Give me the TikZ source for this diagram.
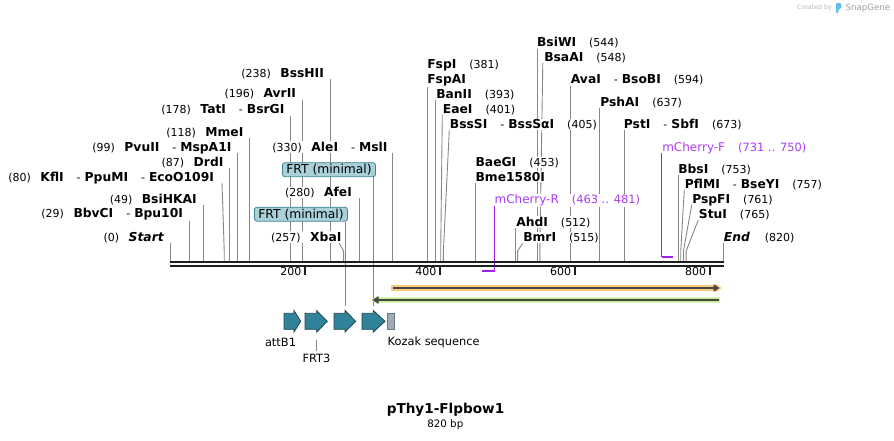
\documentclass[tikz,border=0pt]{standalone}
\usepackage{fontspec}
\setmainfont{DejaVu Sans}
\usetikzlibrary{arrows.meta}
\definecolor{enzgray}{RGB}{135,135,135}
\definecolor{bbone}{RGB}{30,30,30}
\definecolor{primer}{RGB}{160,32,240}
\definecolor{primertxt}{RGB}{170,60,240}
\definecolor{featfill}{RGB}{49,131,153}
\definecolor{featdraw}{RGB}{30,70,85}
\definecolor{frtfill}{RGB}{170,208,216}
\definecolor{frtdraw}{RGB}{60,130,150}
\definecolor{orgband}{RGB}{250,200,120}
\definecolor{grnband}{RGB}{195,240,140}
\definecolor{arrline}{RGB}{70,70,70}
\definecolor{kozfill}{RGB}{165,170,178}
\definecolor{wmgray}{RGB}{185,185,185}
\definecolor{wmblue}{RGB}{95,190,235}
\newcommand\nf{\fontsize{11}{11}\selectfont}
\newcommand\enzfont{\fontsize{12.3}{12}\selectfont\bfseries}
\newcommand\dsh{\hspace{13pt}{\mdseries\nf -}\hspace{4pt}}
\newcommand\enzL[2]{{\nf(#1)}\hspace{9.5pt}{\enzfont #2}}
\newcommand\enzR[2]{{\enzfont #1}\hspace{13pt}{\nf(#2)}}
\newcommand\sx[1]{170.3+0.6743*#1}
\newcommand\enzV[3]{%
  \coordinate (#1t) at ({\sx{#2}},#3);
  \coordinate (#1b) at ({\sx{#2}},261);
  \draw[enzline] (#1t) -- (#1b);}
\newcommand\enzS[4]{%
  \coordinate (#1t) at (#2,#3);
  \coordinate (#1m) at ({\sx{#4}},251);
  \coordinate (#1b) at ({\sx{#4}},261);
  \draw[enzline] (#1t) -- (#1m) -- (#1b);}
\newcommand\labL[5]{\node[lab, anchor=base east] (#1) at (#2,#3+4.3) {\enzL{#4}{#5}};}
\newcommand\labR[5]{\node[lab, anchor=base west] (#1) at (#2,#3+4.3) {\enzR{#4}{#5}};}
\newcommand\farrow[4]{%
  \draw[feat] (#2,313.3) -- (#3,313.3) -- (#3,310.5) -- (#4,321.3) -- (#3,332.1) -- (#3,329.3) -- (#2,329.3) -- cycle;
  \coordinate (#1) at ({(#2+#4)/2},310.5);}
\tikzset{
  enzline/.style={draw=enzgray, line width=0.9},
  lab/.style={inner sep=0.4pt, fill=white},
  feat/.style={fill=featfill, draw=featdraw, line width=0.8},
  frtbox/.style={fill=frtfill, draw=frtdraw, line width=0.8, rounded corners=2.5, minimum width=93, minimum height=14, inner sep=0, font=\fontsize{12.3}{12}\selectfont},
  ftlab/.style={inner sep=0, font=\fontsize{11.4}{11}\selectfont},
  primline/.style={draw=primer, line width=1.2},
}
\begin{document}
\begin{tikzpicture}[x=1pt, y=-1pt]
\useasboundingbox (0,0) rectangle (894,440);
% ---------- enzyme lines ----------
\enzV{start}{0}{242.7}
\enzV{bbvci}{29}{220.7}
\enzV{bsihkai}{49}{205}
\enzS{kfli}{222}{183}{80}
\enzV{drdi}{87}{168.3}
\enzV{pvuii}{99}{153}
\enzV{mmei}{118}{137.7}
\enzV{tati}{178}{116}
\enzV{avrii}{196}{100}
\enzV{bsshii}{238}{78.5}
\enzS{xbai}{339.3}{243.3}{257}
\enzV{afei}{280}{198.3}
\enzV{alei}{330}{153}
\enzV{fspai}{381}{85}
\enzV{banii}{393}{100}
\enzS{eaei}{442.3}{115}{401}
\enzS{bsssi}{449.3}{130}{405}
\enzV{bme}{453}{183}
\enzV{ahdi}{512}{228}
\enzS{bmri}{522.7}{243.3}{515}
\enzV{bsiwi}{544}{48.5}
\enzS{bsaai}{542.8}{63}{548}
\enzV{avai}{594}{86}
\enzV{pshai}{637}{108}
\enzV{psti}{673}{130}
\enzV{bbsi}{753}{175}
\enzS{pflmi}{684.3}{189.5}{757}
\enzS{pspfi}{691.7}{205}{761}
\enzS{stui}{698.3}{220}{765}
\enzV{end}{820}{243}
% ---------- FRT boxes and their lines ----------
\node[frtbox] (frtA) at (329,169.7) {FRT (minimal)};
\node[frtbox] (frtB) at (301,214.2) {FRT (minimal)};
% ---------- enzyme labels ----------
\labL{Lstart}{164.3}{236.7}{0}{\itshape Start}
\labL{Lbbvci}{183.5}{213.3}{29}{BbvCI\dsh Bpu10I}
\labL{Lbsihkai}{197.3}{198.7}{49}{BsiHKAI}
\labL{Lkfli}{214.5}{176.7}{80}{KflI\dsh PpuMI\dsh EcoO109I}
\labL{Ldrdi}{224}{162.3}{87}{DrdI}
\labL{Lpvuii}{232}{146.7}{99}{PvuII\dsh MspA1I}
\labL{Lmmei}{244}{131.7}{118}{MmeI}
\labL{Ltati}{285}{109}{178}{TatI\dsh BsrGI}
\labL{Lavrii}{296.5}{93.3}{196}{AvrII}
\labL{Lbsshii}{324.5}{72.7}{238}{BssHII}
\labL{Lxbai}{342}{236.7}{257}{XbaI}
\labL{Lafei}{352.5}{192.3}{280}{AfeI}
\labL{Lalei}{388}{146.7}{330}{AleI\dsh MslI}
\labR{Lfspi}{426.7}{64}{FspI}{381}
\node[lab, anchor=base west] (Lfspai) at (426.7,79.3+4.3) {\enzfont FspAI};
\labR{Lbanii}{435.7}{94}{BanII}{393}
\labR{Leaei}{442.3}{109}{EaeI}{401}
\labR{Lbsssi}{449.3}{124}{BssSI\dsh BssSαI}{405}
\labR{Lbaegi}{475}{162.3}{BaeGI}{453}
\node[lab, anchor=base west] (Lbme) at (475,176.7+4.3) {\enzfont Bme1580I};
\labR{Lahdi}{515.7}{221.7}{AhdI}{512}
\labR{Lbmri}{522.7}{237.3}{BmrI}{515}
\labR{Lbsiwi}{536.5}{42.3}{BsiWI}{544}
\labR{Lbsaai}{543.7}{57.3}{BsaAI}{548}
\labR{Lavai}{570.3}{79.3}{AvaI\dsh BsoBI}{594}
\labR{Lpshai}{599.7}{101.7}{PshAI}{637}
\labR{Lpsti}{623.3}{124}{PstI\dsh SbfI}{673}
\labR{Lbbsi}{677.7}{169}{BbsI}{753}
\labR{Lpflmi}{684.3}{184}{PflMI\dsh BseYI}{757}
\labR{Lpspfi}{691.7}{199}{PspFI}{761}
\labR{Lstui}{698.3}{214}{StuI}{765}
\node[lab, anchor=base west] (Lend) at (723.3,237.3+4.3) {{\enzfont\itshape End}\hspace{15pt}{\nf(820)}};
% ---------- primers ----------
\node[lab, anchor=base west, text=primertxt] (Lmf) at (661.7,146.7+4.3)
  {{\fontsize{12}{12}\selectfont mCherry-F}\hspace{13pt}{\fontsize{11.4}{11}\selectfont(731 .. 750)}};
\node[lab, anchor=base west, text=primertxt] (Lmr) at (494,199.3+4.3)
  {{\fontsize{12}{12}\selectfont mCherry-R}\hspace{13pt}{\fontsize{11.4}{11}\selectfont(463 .. 481)}};
\coordinate (mfT) at (661.7,153);
\coordinate (mfC) at (661.7,257.3);
\coordinate (mfE) at (673.3,257.3);
\coordinate (mrT) at (494.7,205.5);
\coordinate (mrC) at (494.7,270.7);
\coordinate (mrE) at (482.3,270.7);
\draw[primline] (mfT) -- (mfC);
\draw[draw=primer, line width=2] (mfC) -- (mfE);
\draw[primline] (mrT) -- (mrC);
\draw[draw=primer, line width=2] (mrC) -- (mrE);
% ---------- feature arrows ----------
\farrow{f1}{284}{294}{300.7}
\farrow{f2}{305}{316.7}{327.3}
\farrow{f3}{334}{345}{355.7}
\farrow{f4}{362}{373.3}{385}
\node[fill=kozfill, draw=featdraw!70, line width=0.6, minimum width=7, minimum height=16, inner sep=0] (koz) at (390.8,321.3) {};
\coordinate (f3t) at (345.7,306);
\coordinate (f4t) at (373.3,306);
\draw[enzline] (frtB.south -| f3t) -- (f3t);
\draw[enzline] (frtA.south -| f4t) -- (f4t);
% ---------- backbone ----------
\coordinate (bb0) at (170,262.2);
\coordinate (bb1) at (723.6,262.2);
\coordinate (bb2) at (170,266.3);
\coordinate (bb3) at (723.6,266.3);
\draw[bbone, line width=2.3] (bb0) -- (bb1);
\draw[bbone, line width=2.3] (bb2) -- (bb3);
\foreach \t in {200,400,600,800}{
  \coordinate (tk\t) at ({\sx{\t}},267);
  \draw[bbone, line width=2] (tk\t) -- ++(0,7.5);
  \node[anchor=east, inner sep=0, font=\nf] (tl\t) at ({\sx{\t}-3.5},271) {\t};
}
% ---------- long arrows ----------
\fill[orgband] (391,285.2) -- (715,285.2) -- (715,283.3) -- (722,288) -- (715,292.7) -- (715,290.8) -- (391,290.8) -- cycle;
\coordinate (oS) at (393,288);
\coordinate (oE) at (719.5,288);
\draw[arrline, line width=1.8, -{Triangle[length=6,width=7]}] (oS) -- (oE);
\fill[grnband] (720,297.4) -- (378,297.4) -- (378,295.5) -- (371,300) -- (378,304.5) -- (378,302.6) -- (720,302.6) -- cycle;
\coordinate (gS) at (718.5,300);
\coordinate (gE) at (372.5,300);
\draw[arrline, line width=1.8, -{Triangle[length=6,width=7]}] (gS) -- (gE);
% ---------- feature labels ----------
\node[ftlab] (attb1) at (280.5,342.7) {attB1};
\coordinate (frt3a) at (316.7,340);
\coordinate (frt3b) at (316.7,350.5);
\draw[enzline] (frt3a) -- (frt3b);
\node[ftlab] (frt3) at (316.5,358.5) {FRT3};
\node[ftlab, anchor=west] (kozlab) at (387.5,342.7) {Kozak sequence};
% ---------- title ----------
\node[inner sep=0, font=\fontsize{13.6}{14}\selectfont\bfseries] (title) at (445.5,410) {pThy1-Flpbow1};
\node[inner sep=0, font=\fontsize{10.3}{10}\selectfont] (size) at (445.3,424.5) {820 bp};
% ---------- watermark ----------
\node[inner sep=0, anchor=west, text=wmgray, font=\fontsize{6.3}{7}\selectfont] (wm1) at (797,7.5) {Created by};
\fill[wmblue, rounded corners=1] (836,3) -- (841,3) -- (841.5,8) -- (838.5,9.5) -- (838,13.5) -- (836,13.5) -- cycle;
\node[inner sep=0, anchor=west, text=wmgray!85!black, font=\fontsize{8.6}{9}\selectfont] (wm2) at (845.5,8) {SnapGene};
\end{tikzpicture}
\end{document}
